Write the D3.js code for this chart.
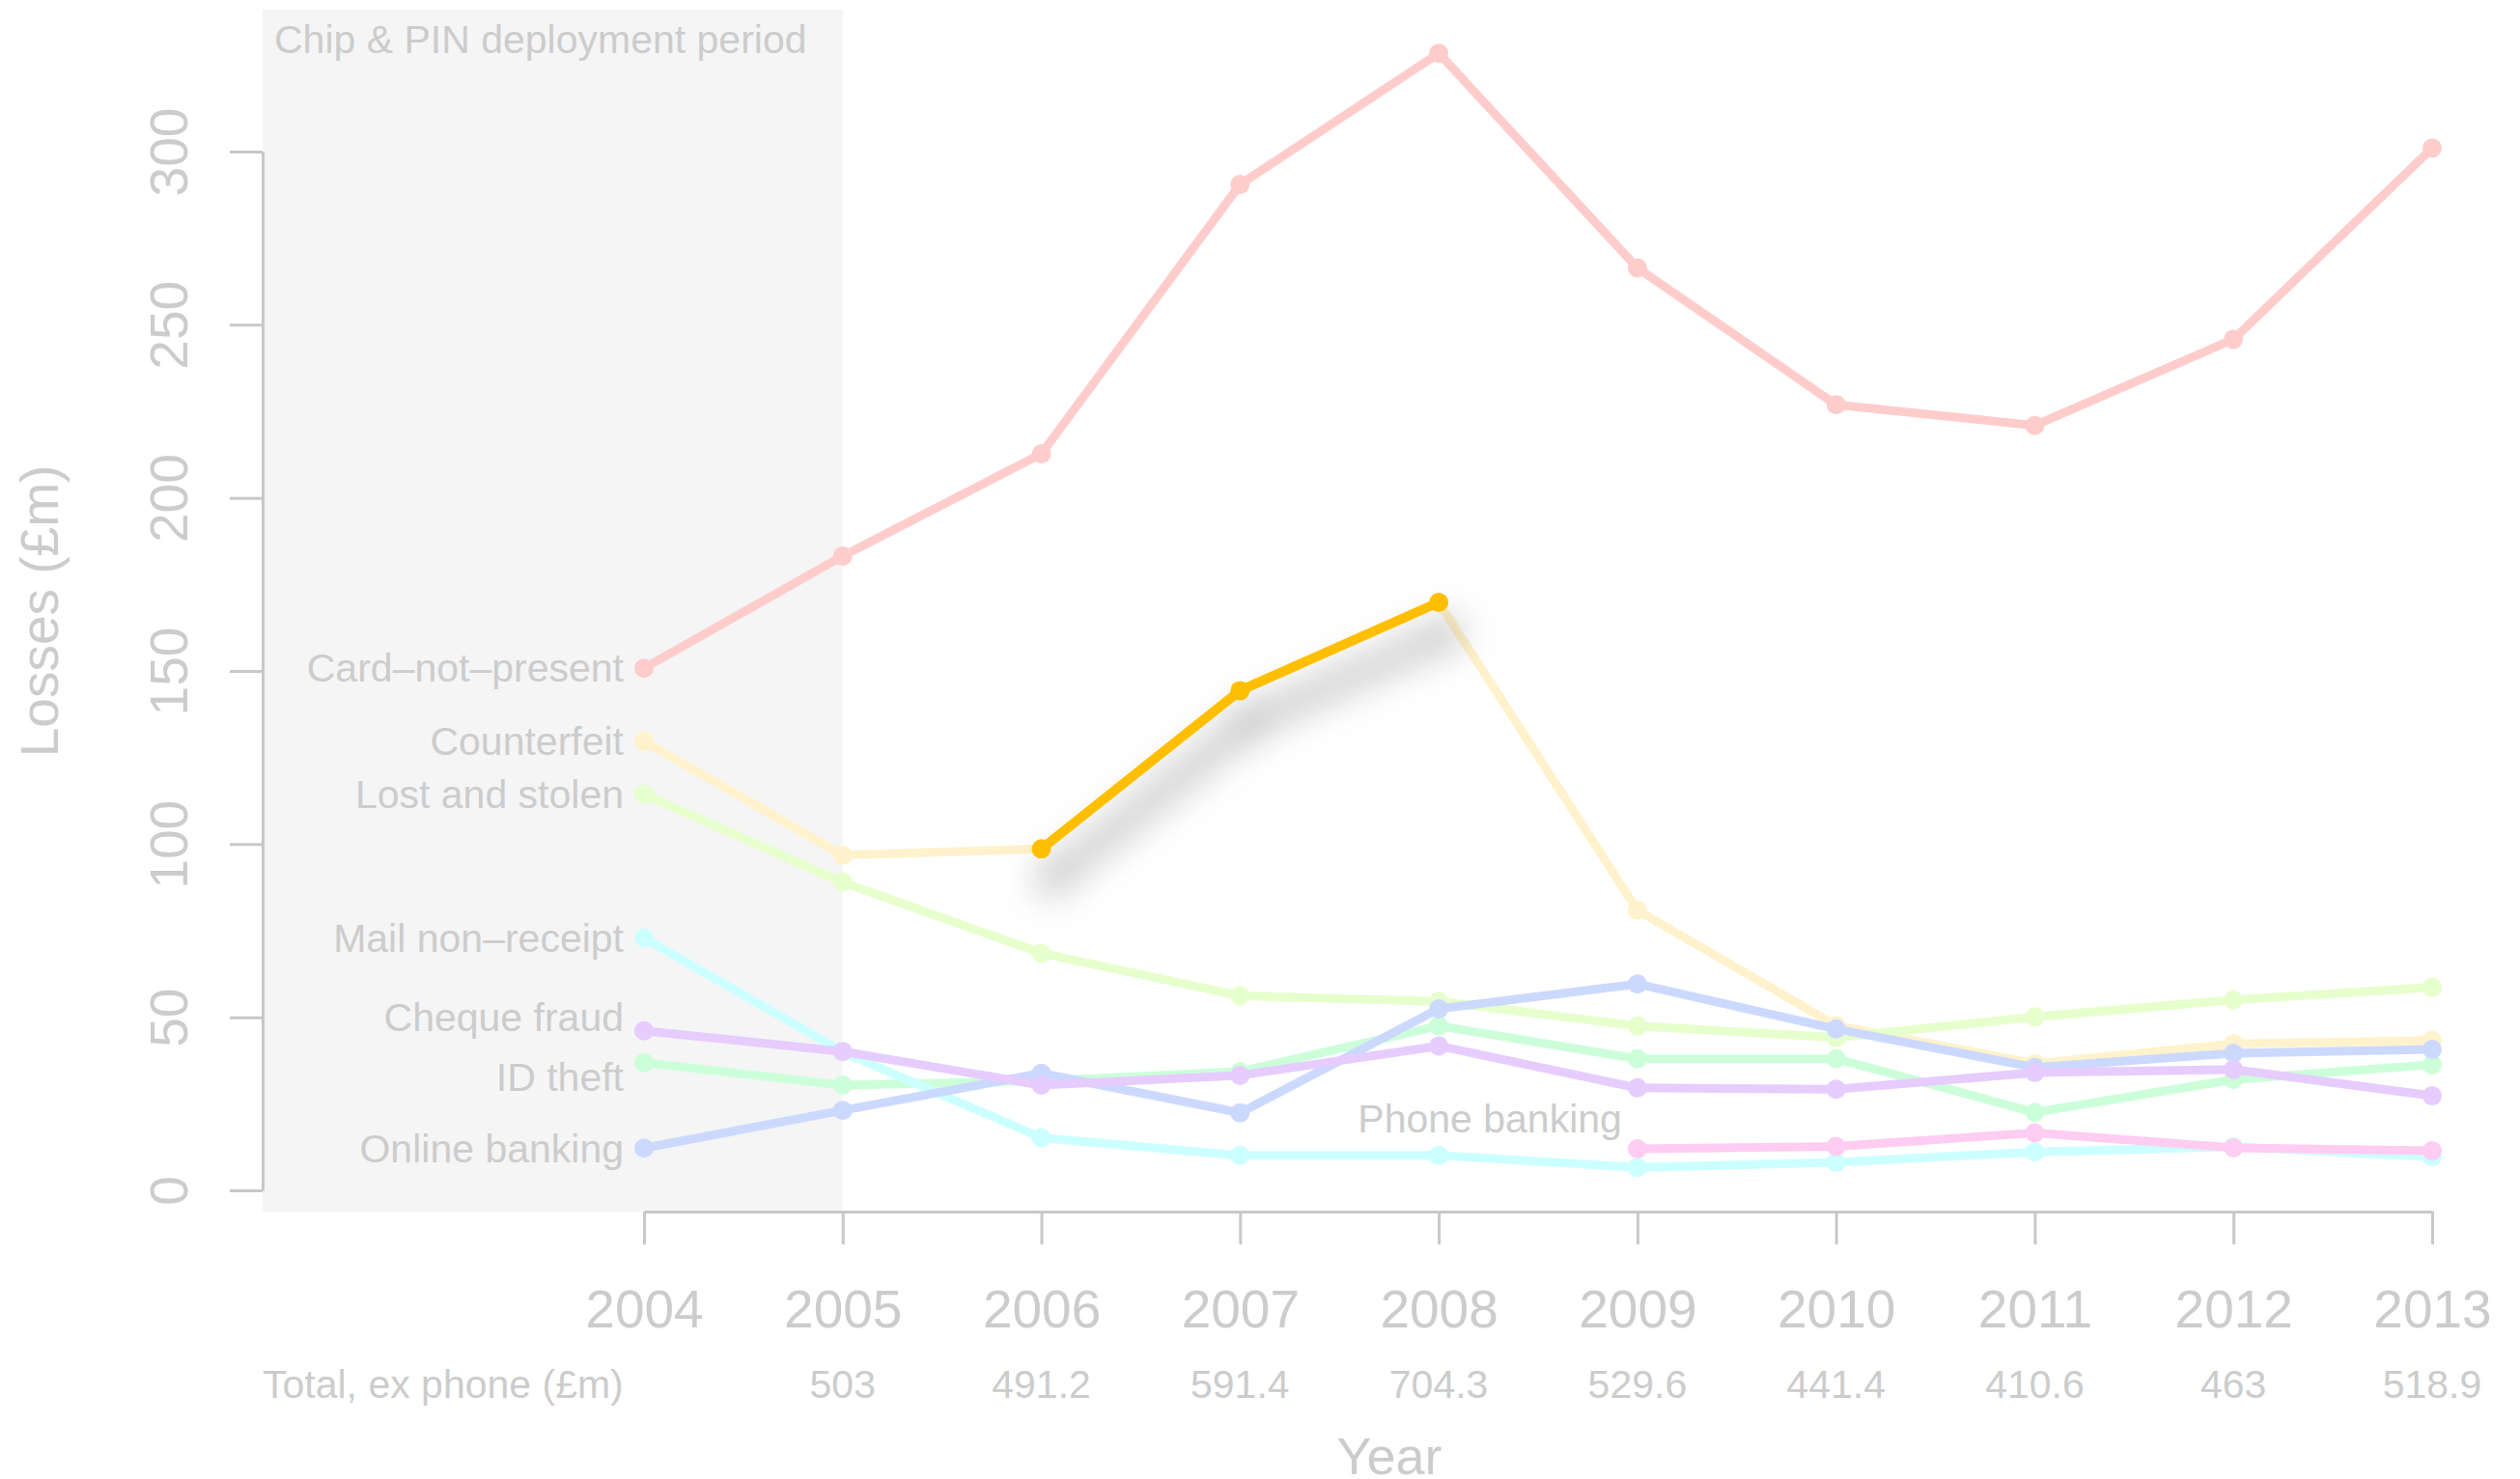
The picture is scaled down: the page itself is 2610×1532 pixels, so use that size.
<!DOCTYPE html>
<html>
<head>
<meta charset="utf-8">
<script src="https://cdn.jsdelivr.net/npm/d3@7"></script>
<style>
  body { margin: 0; background: #fff; }
  svg text { font-family: "Liberation Sans", Arial, Helvetica, sans-serif; fill: #cccccc; }
</style>
</head>
<body>
<svg id="chart" width="2610" height="1532"></svg>
<script>
// UK card / banking fraud losses, £m
const years = [2004, 2005, 2006, 2007, 2008, 2009, 2010, 2011, 2012, 2013];
const cardNotPresent = [150.8, 183.2, 212.7, 290.5, 328.4, 266.4, 226.9, 220.9, 245.8, 301.0];
const counterfeit    = [129.7, 96.8, 98.6, 144.3, 169.8, 80.9, 47.6, 36.6, 42.3, 43.3];
const lostAndStolen  = [114.4, 89.0, 68.5, 56.2, 54.6, 47.5, 44.1, 50.1, 55.0, 58.6];
const mailNonReceipt = [72.9, 40.0, 15.2, 10.1, 10.1, 6.6, 8.1, 11.1, 12.6, 9.7];
const idTheft        = [36.9, 30.4, 31.6, 34.3, 47.5, 38.0, 38.0, 22.5, 32.0, 36.3];
const onlineBanking  = [12.2, 23.1, 33.8, 22.4, 52.4, 59.6, 46.6, 35.5, 39.6, 40.7];
const chequeFraud    = [46.1, 40.1, 30.4, 33.2, 41.7, 29.6, 29.2, 34.0, 34.9, 27.3];
const phoneBanking   = [null, null, null, null, null, 12.0, 12.7, 16.6, 12.3, 11.4];

const totalLabel = 'Total, ex phone (£m)';
const totalsExPhone = ['', '503', '491.2', '591.4', '704.3', '529.6', '441.4', '410.6', '463', '518.9'];

const yTicks = [0, 50, 100, 150, 200, 250, 300];
const chipAndPinYears = [2004, 2005];
const highlightYears = [2006, 2008];

// drawing order matters: later series sit on top
const series = [
  { name: 'Card–not–present', values: cardNotPresent, color: '#ffcccc', labelShift: 0 },
  { name: 'Counterfeit', values: counterfeit, color: '#fff2cc', labelShift: 0 },
  { name: 'Lost and stolen', values: lostAndStolen, color: '#e6ffcc', labelShift: 0 },
  { name: 'ID theft', values: idTheft, color: '#ccffd9', labelShift: -4.3 },
  { name: 'Mail non–receipt', values: mailNonReceipt, color: '#ccffff', labelShift: 0 },
  { name: 'Online banking', values: onlineBanking, color: '#ccd9ff', labelShift: 0 },
  { name: 'Cheque fraud', values: chequeFraud, color: '#e6ccff', labelShift: 3.8 },
  { name: 'Phone banking', values: phoneBanking, color: '#ffccf2', labelShift: null },
];

const axisColor = '#c8c8c8';
const plotLeft = 272;
const plotTop = 10;
const xAxisY = 1255;

const svg = d3.select('#chart');
const x = d3.scaleLinear().domain([2004, 2013]).range([667, 2519]);
const y = d3.scaleLinear().domain([0, 300]).range([1233, 157]);

svg.append('defs').html(`
  <filter id="shadow" x="-40%" y="-40%" width="180%" height="200%">
    <feDropShadow dx="10" dy="32" stdDeviation="20" flood-color="#000" flood-opacity="0.6"/>
  </filter>`);

// chip & pin period shading
svg.append('rect')
  .attr('x', plotLeft)
  .attr('y', plotTop)
  .attr('width', x(chipAndPinYears[1]) - plotLeft)
  .attr('height', xAxisY - plotTop)
  .attr('fill', '#f5f5f5');

svg.append('text')
  .attr('x', plotLeft + 12)
  .attr('y', 55)
  .attr('font-size', 41)
  .text('Chip & PIN deployment period');

// y axis
const yAxis = svg.append('g')
  .attr('transform', `translate(${plotLeft},0)`)
  .call(d3.axisLeft(y).tickValues(yTicks).tickSize(34).tickSizeOuter(0));
yAxis.selectAll('path, line').attr('stroke', axisColor).attr('stroke-width', 3);
yAxis.selectAll('text')
  .attr('x', null).attr('dy', null)
  .attr('text-anchor', 'middle')
  .attr('font-size', 55)
  .attr('fill', '#cccccc')
  .attr('transform', 'translate(-78,0) rotate(-90)');

svg.append('text')
  .attr('transform', 'translate(60,633) rotate(-90)')
  .attr('text-anchor', 'middle')
  .attr('font-size', 55)
  .text('Losses (£m)');

// x axis
const xAxis = svg.append('g')
  .attr('transform', `translate(0,${xAxisY})`)
  .call(d3.axisBottom(x).tickValues(years).tickFormat(d3.format('d')).tickSize(34).tickSizeOuter(0).tickPadding(47));
xAxis.selectAll('path, line').attr('stroke', axisColor).attr('stroke-width', 3);
xAxis.selectAll('text').attr('font-size', 55).attr('fill', '#cccccc');

svg.append('text')
  .attr('x', plotLeft)
  .attr('y', 1448)
  .attr('font-size', 41)
  .text(totalLabel);

svg.selectAll('.total')
  .data(years)
  .enter().append('text')
  .attr('class', 'total')
  .attr('x', d => x(d))
  .attr('y', 1448)
  .attr('text-anchor', 'middle')
  .attr('font-size', 41)
  .text((d, i) => totalsExPhone[i]);

svg.append('text')
  .attr('x', 1439)
  .attr('y', 1527)
  .attr('text-anchor', 'middle')
  .attr('font-size', 54)
  .text('Year');

// series lines
const line = d3.line()
  .defined(d => d.v != null)
  .x(d => x(d.year))
  .y(d => y(d.v));

const lines = svg.append('g');
series.forEach(s => {
  const pts = years.map((year, i) => ({ year, v: s.values[i] }));
  const g = lines.append('g');
  g.append('path')
    .attr('d', line(pts))
    .attr('fill', 'none')
    .attr('stroke', s.color)
    .attr('stroke-width', 9)
    .attr('stroke-linejoin', 'round');
  g.selectAll('circle')
    .data(pts.filter(d => d.v != null))
    .enter().append('circle')
    .attr('cx', d => x(d.year))
    .attr('cy', d => y(d.v))
    .attr('r', 10)
    .attr('fill', s.color);

  if (s.labelShift !== null) {
    lines.append('text')
      .attr('x', x(years[0]) - 21)
      .attr('y', y(s.values[0] + s.labelShift))
      .attr('dy', '0.35em')
      .attr('text-anchor', 'end')
      .attr('font-size', 41)
      .text(s.name);
  }
});

// phone banking starts later, label sits above its first point
svg.append('text')
  .attr('x', x(2009) - 16)
  .attr('y', 1173)
  .attr('text-anchor', 'end')
  .attr('font-size', 41)
  .text('Phone banking');

// highlighted counterfeit rise
const hiPts = years
  .map((year, i) => ({ year, v: counterfeit[i] }))
  .filter(d => d.year >= highlightYears[0] && d.year <= highlightYears[1]);
const hi = svg.append('g').attr('filter', 'url(#shadow)');
hi.append('path')
  .attr('d', line(hiPts))
  .attr('fill', 'none')
  .attr('stroke', '#ffbf00')
  .attr('stroke-width', 10)
  .attr('stroke-linejoin', 'round');
hi.selectAll('circle')
  .data(hiPts)
  .enter().append('circle')
  .attr('cx', d => x(d.year))
  .attr('cy', d => y(d.v))
  .attr('r', 10)
  .attr('fill', '#ffbf00');
</script>
</body>
</html>
